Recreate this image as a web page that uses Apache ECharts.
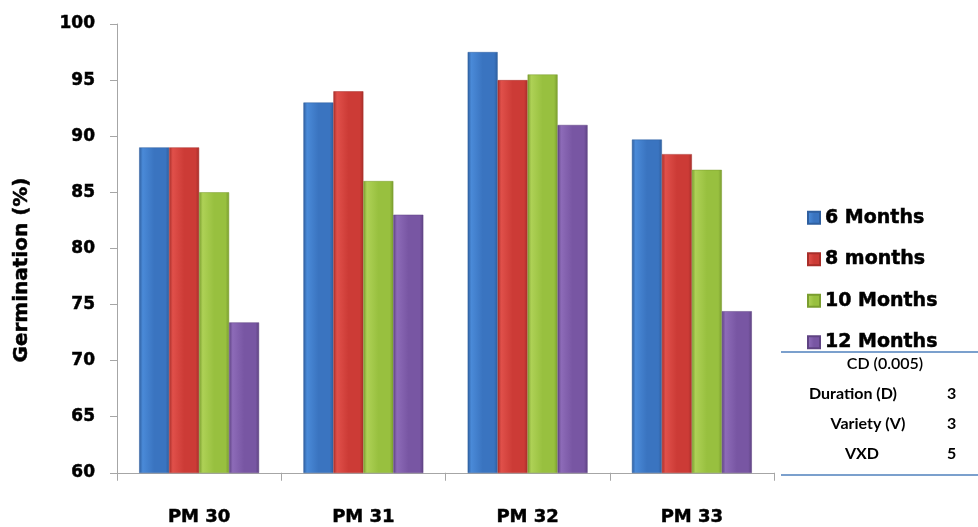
<!DOCTYPE html>
<html><head><meta charset="utf-8">
<script src="https://cdn.jsdelivr.net/npm/echarts@6/dist/echarts.min.js"></script>
<style>html,body{margin:0;padding:0;background:#fff}#c{width:978px;height:527px}</style>
</head><body><div id="c"></div>
<script>
var categories = ['PM 30', 'PM 31', 'PM 32', 'PM 33'];
var seriesNames = ['6 Months', '8 months', '10 Months', '12 Months'];
var months6 = [89, 93, 97.5, 89.7];
var months8 = [89, 94, 95, 88.4];
var months10 = [85, 86, 95.5, 87];
var months12 = [73.4, 83, 91, 74.4];
var yTicks = [60, 65, 70, 75, 80, 85, 90, 95, 100];
var yTitle = 'Germination (%)';
var cdTitle = 'CD (0.005)';
var cdLabels = ['Duration (D)', 'Variety (V)', 'VXD'];
var cdValues = ['3', '3', '5'];

var colors = [
  ['#4a8ad8', '#3a74c0', '#2f5f9f'],
  ['#e0504a', '#cc3b36', '#a82e2a'],
  ['#aed156', '#98c03f', '#7a9d2f'],
  ['#8d6bb8', '#7856a3', '#5f4383']
];
function grad(c) {
  return new echarts.graphic.LinearGradient(0, 0, 1, 0, [
    {offset: 0, color: c[2]}, {offset: 0.12, color: c[0]},
    {offset: 0.5, color: c[1]}, {offset: 0.88, color: c[1]}, {offset: 1, color: c[2]}
  ]);
}
var data = [months6, months8, months10, months12];
var heavy = '"DejaVu Sans", sans-serif';
var font = 'Lato, "Open Sans", sans-serif';
var chart = echarts.init(document.getElementById('c'));
var series = data.map(function (d, i) {
  return {
    name: seriesNames[i], type: 'bar', data: d,
    barGap: '0%', barCategoryGap: '27%',
    itemStyle: {color: grad(colors[i]), borderColor: colors[i][2], borderWidth: 0.5}
  };
});
var graphics = [
  {type: 'text', x: 22, y: 270, rotation: Math.PI / 2,
    style: {text: yTitle, font: 'bold 20px ' + heavy, fill: '#000', stroke: '#000', lineWidth: 0.5, align: 'center', verticalAlign: 'middle'}},
  {type: 'line', shape: {x1: 781, y1: 352, x2: 978, y2: 352}, style: {stroke: '#4f81bd', lineWidth: 1.5}},
  {type: 'line', shape: {x1: 781, y1: 475, x2: 978, y2: 475}, style: {stroke: '#4f81bd', lineWidth: 1.5}},
  {type: 'text', x: 885, y: 364, style: {text: cdTitle, font: '600 16px ' + font, fill: '#000', align: 'center', verticalAlign: 'middle'}}
];
var rowX = [853, 868, 862];
cdLabels.forEach(function (l, i) {
  graphics.push({type: 'text', x: rowX[i], y: 394 + i * 30, style: {text: l, font: 'bold 16px ' + font, fill: '#000', align: 'center', verticalAlign: 'middle'}});
  graphics.push({type: 'text', x: 947, y: 394 + i * 30, style: {text: cdValues[i], font: 'bold 16px ' + font, fill: '#000', align: 'left', verticalAlign: 'middle'}});
});
var thick = {textBorderColor: '#000', textBorderWidth: 0.5};
chart.setOption({
  animation: false,
  color: colors.map(function (c) { return c[1]; }),
  grid: {left: 117, right: 204, top: 24, bottom: 53},
  legend: {
    orient: 'vertical', left: 802, top: 203, itemGap: 22, itemWidth: 12, itemHeight: 12,
    icon: 'rect', data: seriesNames,
    textStyle: Object.assign({fontFamily: heavy, fontWeight: 'bold', fontSize: 19, color: '#000'}, thick)
  },
  xAxis: {
    type: 'category', data: categories,
    axisLine: {lineStyle: {color: '#a6a6a6'}},
    axisTick: {show: true, length: 8, lineStyle: {color: '#a6a6a6'}},
    axisLabel: Object.assign({margin: 36, fontFamily: heavy, fontWeight: 'bold', fontSize: 18, color: '#000'}, thick)
  },
  yAxis: {
    type: 'value', min: 60, max: 100, interval: 5,
    axisLine: {show: true, lineStyle: {color: '#a6a6a6'}},
    axisTick: {show: true, length: 7, lineStyle: {color: '#a6a6a6'}},
    splitLine: {show: false},
    axisLabel: Object.assign({margin: 22, fontFamily: heavy, fontWeight: 'bold', fontSize: 17, color: '#000',
      formatter: function (v) { return yTicks.indexOf(v) >= 0 ? String(v) : ''; }}, thick)
  },
  series: series,
  graphic: graphics
});
</script></body></html>
